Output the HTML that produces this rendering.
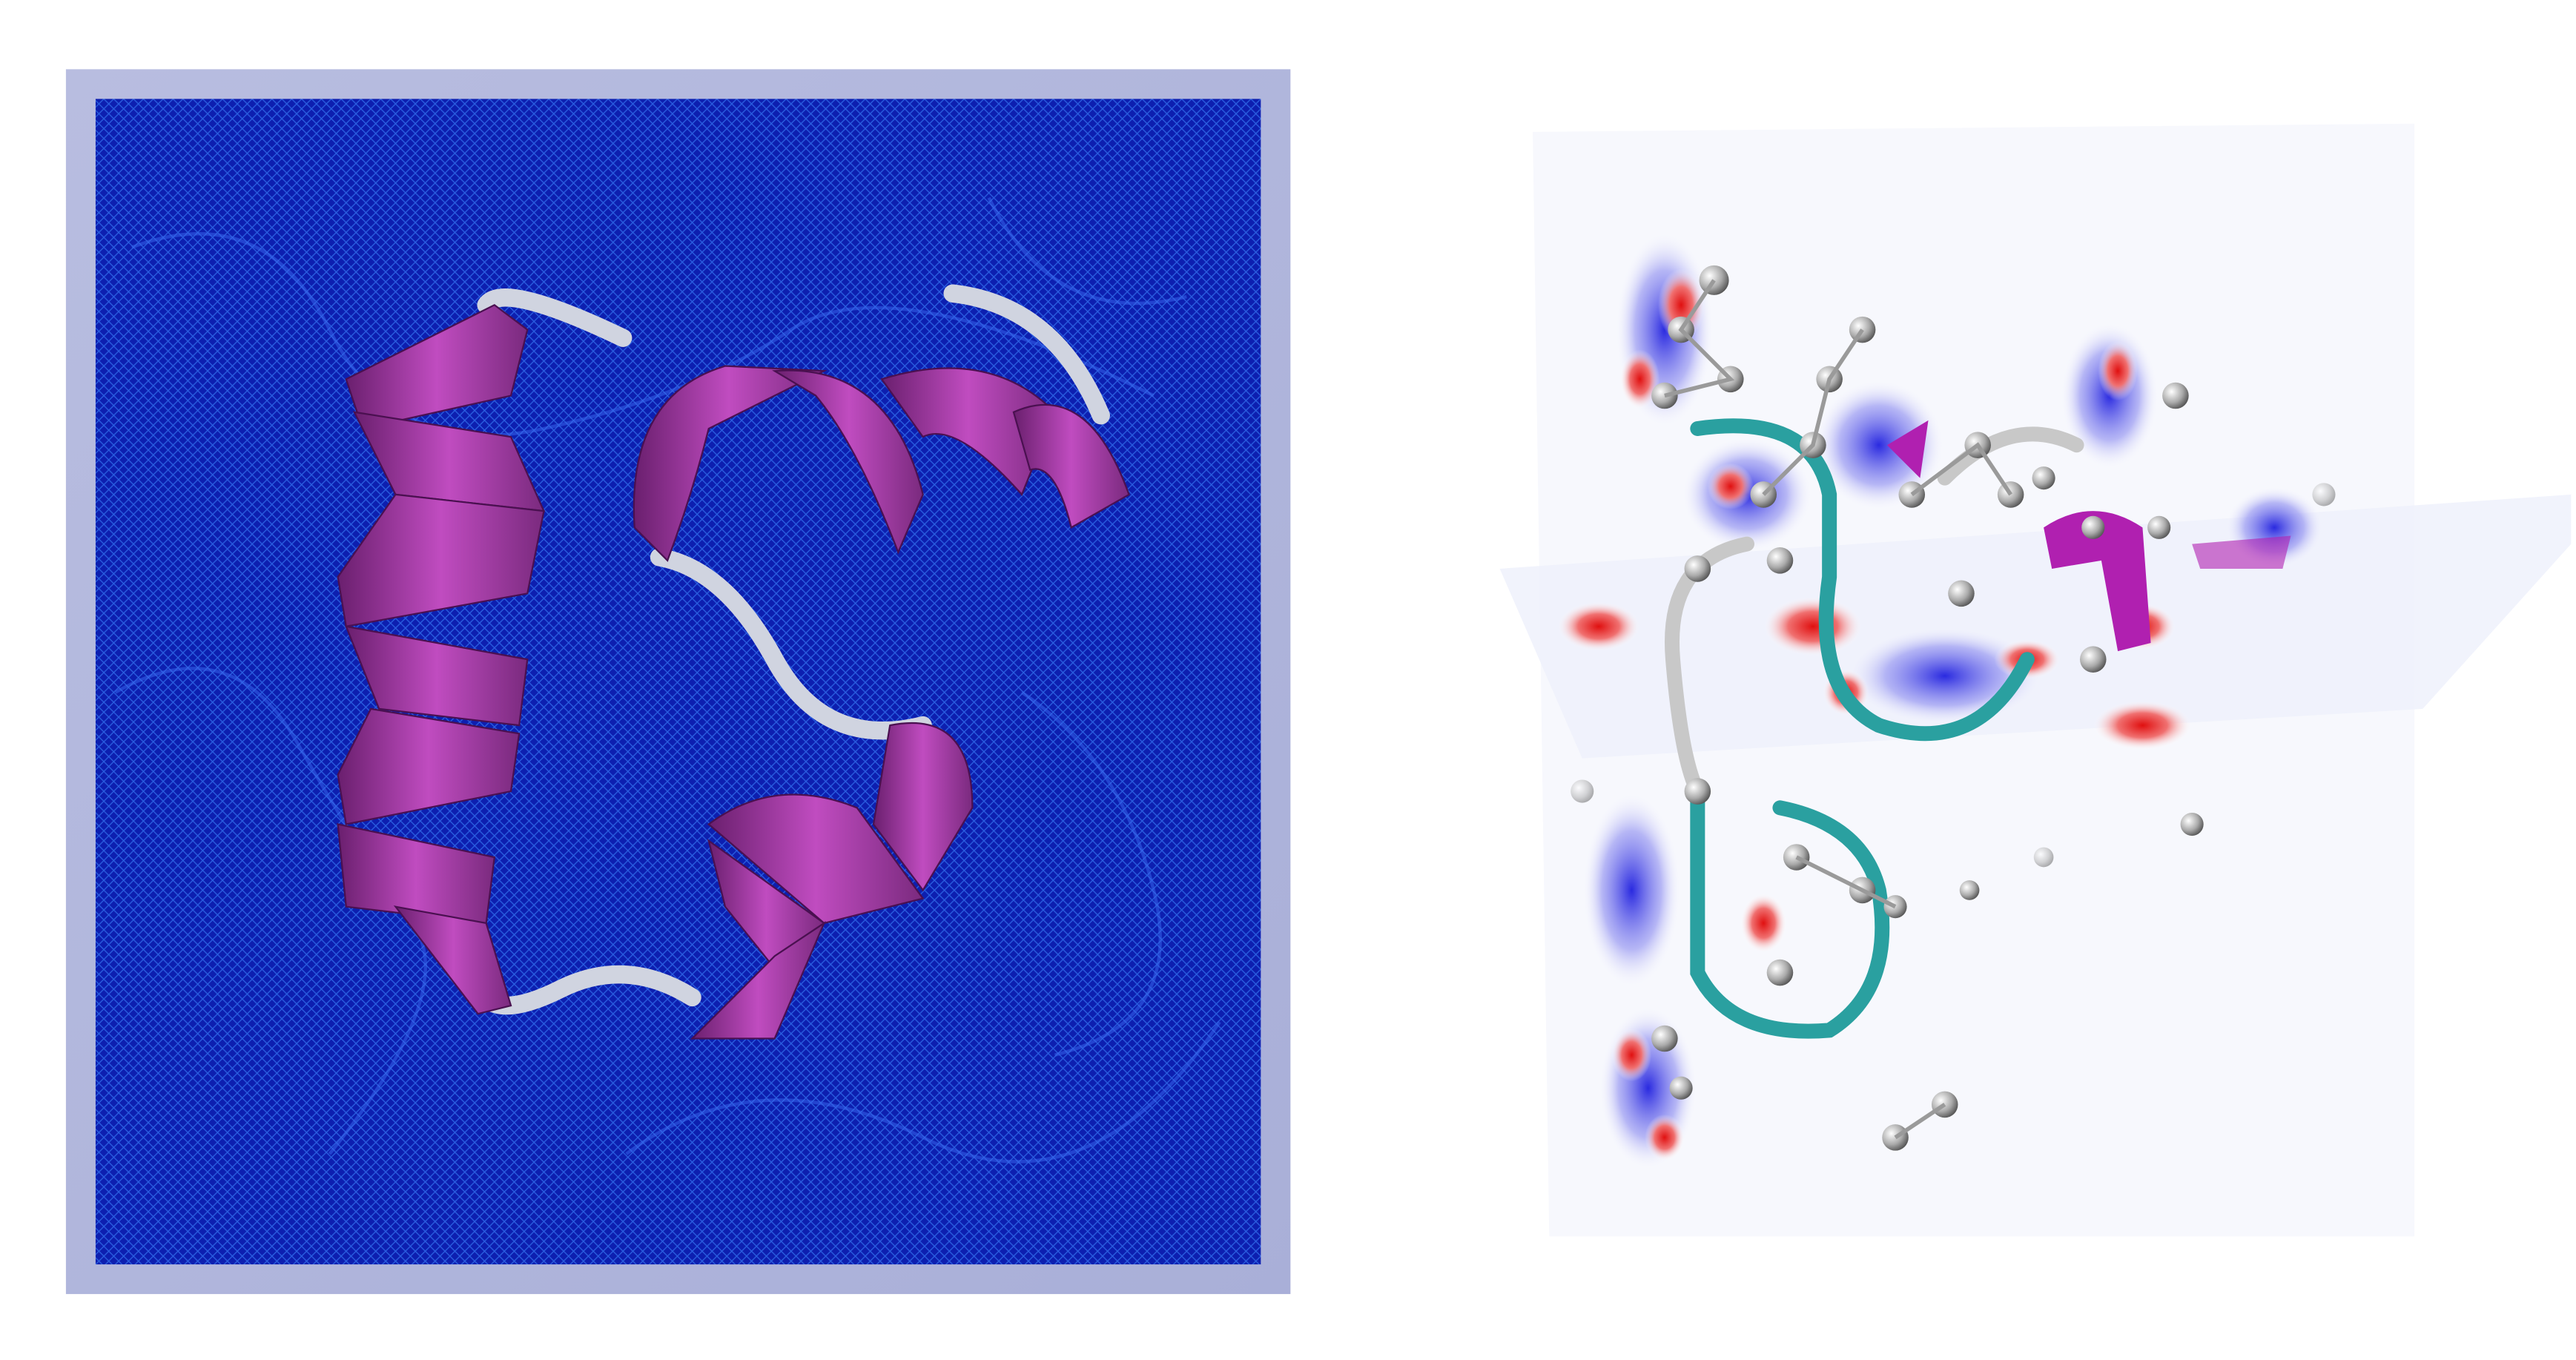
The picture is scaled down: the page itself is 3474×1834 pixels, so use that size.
<!DOCTYPE html>
<html><head><meta charset="utf-8"><style>
html,body{margin:0;padding:0;background:#fff;width:3474px;height:1834px;overflow:hidden}
svg{display:block}
</style></head><body>
<svg width="3474" height="1834" viewBox="0 0 1563 825" preserveAspectRatio="none" xmlns="http://www.w3.org/2000/svg">
<defs>
<linearGradient id="frame" x1="0" y1="0" x2="1" y2="1"><stop offset="0" stop-color="#b8bde0"/><stop offset="1" stop-color="#a9afd8"/></linearGradient>
<pattern id="mesh" width="6" height="6" patternUnits="userSpaceOnUse"><rect width="6" height="6" fill="#0d1fb0"/><path d="M0 3 L3 0 L6 3 L3 6Z" fill="none" stroke="#2a5ee0" stroke-width="0.6"/></pattern>
<linearGradient id="rib" x1="0" y1="0" x2="1" y2="0"><stop offset="0" stop-color="#6a1f6e"/><stop offset="0.5" stop-color="#c04cc0"/><stop offset="1" stop-color="#7a2a7e"/></linearGradient>
<radialGradient id="ball" cx="0.35" cy="0.35" r="0.7"><stop offset="0" stop-color="#fff"/><stop offset="0.6" stop-color="#aaa"/><stop offset="1" stop-color="#555"/></radialGradient>
<radialGradient id="red" cx="0.5" cy="0.5" r="0.5"><stop offset="0" stop-color="#e01010"/><stop offset="0.5" stop-color="#f07070"/><stop offset="1" stop-color="#fff" stop-opacity="0"/></radialGradient>
<radialGradient id="blue" cx="0.5" cy="0.5" r="0.5"><stop offset="0" stop-color="#2a2ae0"/><stop offset="0.6" stop-color="#8a8af0" stop-opacity="0.6"/><stop offset="1" stop-color="#fff" stop-opacity="0"/></radialGradient>
</defs>

<g>
<rect x="40" y="42" width="743" height="743" fill="url(#frame)"/>
<rect x="58" y="60" width="707" height="707" fill="url(#mesh)"/>
<g fill="none" stroke="#3a6af0" stroke-width="2" opacity="0.5">
<path d="M80 150 Q160 120 200 200 T330 260 T480 200 T700 240"/>
<path d="M70 420 Q140 380 180 450 T250 560 T200 700"/>
<path d="M380 700 Q460 640 560 690 T740 620"/>
<path d="M600 120 Q640 200 720 180"/>
<path d="M620 420 Q680 460 700 540 T640 640"/>
</g>
<g fill="none" stroke="#d0d4e0" stroke-width="11" stroke-linecap="round">
<path d="M295 185 Q305 170 378 205"/>
<path d="M578 178 Q640 185 668 252"/>
<path d="M400 338 Q440 345 470 400 T560 440"/>
<path d="M290 600 Q300 620 340 600 T420 605"/>
</g>
<g fill="url(#rib)" stroke="#4a1050" stroke-width="1">
<path d="M300 185 L320 200 L310 240 L220 260 L210 230 Z"/>
<path d="M215 250 L310 265 L330 310 L240 300 Z"/>
<path d="M240 300 L330 310 L320 360 L210 380 L205 350 Z"/>
<path d="M210 380 L320 400 L315 440 L230 430 Z"/>
<path d="M225 430 L315 445 L310 480 L210 500 L205 470 Z"/>
<path d="M205 500 L300 520 L295 560 L210 550 Z"/>
<path d="M240 550 L295 560 L310 610 L290 615 Z"/>
</g>
<g fill="url(#rib)" stroke="#4a1050" stroke-width="1">
<path d="M385 320 Q380 240 440 222 L500 225 L430 260 Q420 300 405 340 Z"/>
<path d="M470 225 Q540 220 560 300 L545 335 Q520 270 495 240 Z"/>
<path d="M535 230 Q600 210 640 250 L620 300 Q580 255 560 265 Z"/>
<path d="M615 250 Q660 230 685 300 L650 320 Q640 280 625 285 Z"/>
</g>
<g fill="url(#rib)" stroke="#4a1050" stroke-width="1">
<path d="M540 440 Q590 430 590 490 L560 540 L530 500 Z"/>
<path d="M430 500 Q470 470 520 490 L560 545 L500 560 Z"/>
<path d="M430 510 L500 560 L480 600 L440 550 Z"/>
<path d="M470 580 L500 560 L470 630 L420 630 Z"/>
</g>
</g>

<g>
<path d="M930 80 L1465 75 L1465 750 L940 750 Z" fill="#f7f8fd"/>
<path d="M910 345 L1560 300 L1560 330 L1470 430 L960 460 Z" fill="#eef0fb" opacity="0.8"/>
<g>
<ellipse cx="1010" cy="200" rx="30" ry="60" fill="url(#blue)"/>
<ellipse cx="1020" cy="185" rx="14" ry="22" fill="url(#red)"/>
<ellipse cx="995" cy="230" rx="12" ry="18" fill="url(#red)"/>
<ellipse cx="1060" cy="300" rx="40" ry="35" fill="url(#blue)"/>
<ellipse cx="1050" cy="295" rx="14" ry="14" fill="url(#red)"/>
<ellipse cx="1140" cy="270" rx="40" ry="40" fill="url(#blue)"/>
<ellipse cx="1280" cy="240" rx="30" ry="45" fill="url(#blue)"/>
<ellipse cx="1285" cy="225" rx="12" ry="18" fill="url(#red)"/>
<ellipse cx="970" cy="380" rx="25" ry="15" fill="url(#red)"/>
<ellipse cx="1100" cy="380" rx="30" ry="18" fill="url(#red)"/>
<ellipse cx="1180" cy="410" rx="60" ry="30" fill="url(#blue)"/>
<ellipse cx="1230" cy="400" rx="20" ry="12" fill="url(#red)"/>
<ellipse cx="1300" cy="380" rx="20" ry="14" fill="url(#red)"/>
<ellipse cx="1300" cy="440" rx="30" ry="15" fill="url(#red)"/>
<ellipse cx="1120" cy="420" rx="14" ry="14" fill="url(#red)"/>
<ellipse cx="990" cy="540" rx="30" ry="60" fill="url(#blue)"/>
<ellipse cx="1070" cy="560" rx="14" ry="18" fill="url(#red)"/>
<ellipse cx="1000" cy="660" rx="30" ry="50" fill="url(#blue)"/>
<ellipse cx="990" cy="640" rx="12" ry="16" fill="url(#red)"/>
<ellipse cx="1010" cy="690" rx="12" ry="14" fill="url(#red)"/>
<ellipse cx="1380" cy="320" rx="30" ry="25" fill="url(#blue)"/>
</g>
<g fill="none" stroke-width="9" stroke-linecap="round">
<path d="M1030 260 Q1100 250 1110 300 L1110 350 Q1100 420 1140 440 Q1200 460 1230 400" stroke="#2aa0a0"/>
<path d="M1060 330 Q1010 340 1015 400 Q1020 460 1030 480" stroke="#c8c8c8"/>
<path d="M1030 480 Q1030 540 1030 590 Q1050 630 1110 625 Q1150 600 1140 540 Q1130 500 1080 490" stroke="#2aa0a0"/>
<path d="M1180 290 Q1220 250 1260 270" stroke="#c8c8c8"/>
</g>
<g fill="#b020b0">
<path d="M1240 320 Q1270 300 1300 320 L1305 390 L1285 395 L1275 340 L1245 345 Z"/>
<path d="M1145 270 L1170 255 L1165 290 Z"/>
<path d="M1330 330 L1390 325 L1385 345 L1335 345 Z" opacity="0.6"/>
</g>
<g fill="url(#ball)">
<circle cx="1040" cy="170" r="9"/><circle cx="1020" cy="200" r="8"/><circle cx="1050" cy="230" r="8"/><circle cx="1010" cy="240" r="8"/>
<circle cx="1130" cy="200" r="8"/><circle cx="1110" cy="230" r="8"/><circle cx="1100" cy="270" r="8"/><circle cx="1070" cy="300" r="8"/>
<circle cx="1030" cy="345" r="8"/><circle cx="1080" cy="340" r="8"/><circle cx="1160" cy="300" r="8"/><circle cx="1200" cy="270" r="8"/>
<circle cx="1220" cy="300" r="8"/><circle cx="1240" cy="290" r="7"/><circle cx="1190" cy="360" r="8"/><circle cx="1270" cy="400" r="8"/>
<circle cx="1270" cy="320" r="7"/><circle cx="1320" cy="240" r="8"/><circle cx="1310" cy="320" r="7"/><circle cx="1030" cy="480" r="8"/>
<circle cx="1090" cy="520" r="8"/><circle cx="1130" cy="540" r="8"/><circle cx="1150" cy="550" r="7"/><circle cx="1080" cy="590" r="8"/>
<circle cx="1010" cy="630" r="8"/><circle cx="1020" cy="660" r="7"/><circle cx="1150" cy="690" r="8"/><circle cx="1180" cy="670" r="8"/>
<circle cx="1330" cy="500" r="7"/><circle cx="1195" cy="540" r="6"/><circle cx="1240" cy="520" r="6" opacity="0.5"/>
<circle cx="960" cy="480" r="7" opacity="0.5"/><circle cx="1410" cy="300" r="7" opacity="0.5"/>
</g>
<g stroke="#9a9a9a" stroke-width="2.5" fill="none">
<path d="M1040 170 L1020 200 L1050 230 L1010 240"/><path d="M1130 200 L1110 230 L1100 270 L1070 300"/>
<path d="M1160 300 L1200 270 L1220 300"/><path d="M1090 520 L1130 540 L1150 550"/><path d="M1150 690 L1180 670"/>
</g>
</g>
</svg>
</body></html>
